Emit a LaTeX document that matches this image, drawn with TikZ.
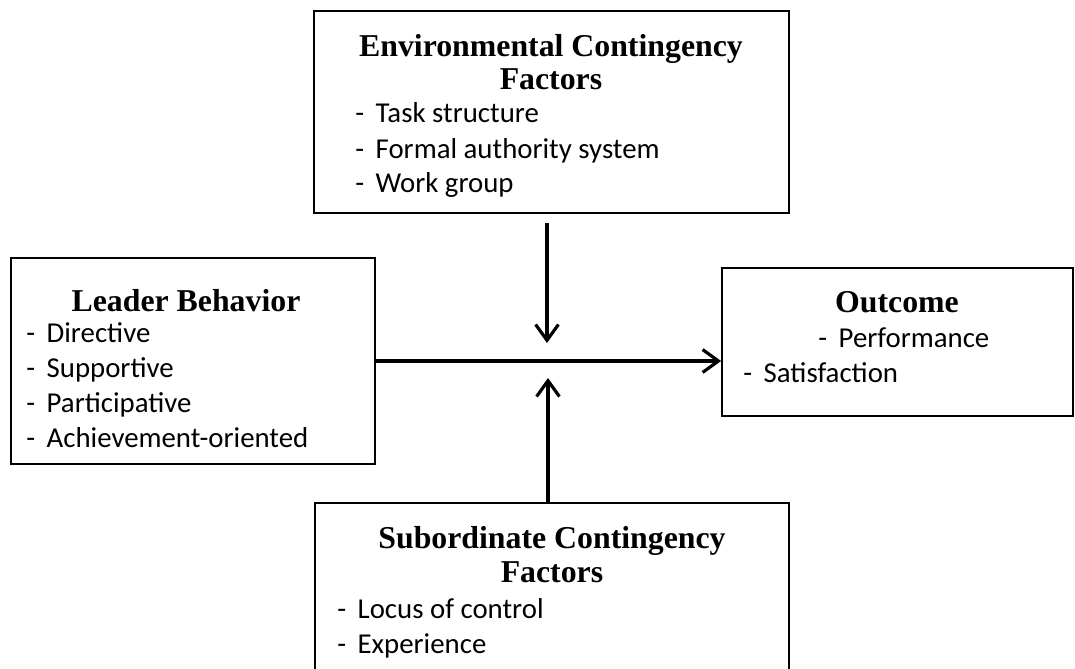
\documentclass[tikz,border=0pt]{standalone}
\usepackage{fontspec}
\setmainfont{Liberation Serif}
\newfontfamily\bodyfont{Carlito}
\usetikzlibrary{arrows.meta,positioning,fit}

\begin{document}
\begin{tikzpicture}[x=0.02cm,y=-0.02cm,
      box/.style={draw,line width=1pt,inner sep=0pt},
      box title/.style={anchor=base,inner sep=0pt,font=\fontsize{18.1}{20}\selectfont\bfseries},
      item/.style={anchor=base west,inner sep=0pt,font=\bodyfont\fontsize{16.4}{19}\selectfont},
      link/.style={line width=1.8pt,-{Straight Barb[length=9pt,width=13pt]}}]

      \clip (0,0) rectangle (1075,669);

      % boxes
      \node[box,fit={(314,11) (789,213)}] (env) {};
      \node[box,fit={(11,258) (375,464)}] (leader) {};
      \node[box,fit={(722,268) (1073,416)}] (outcome) {};
      \node[box,fit={(315,503) (789,700)}] (sub) {};

      % environmental factors
      \node[box title] (env t1) at (551,57) {Environmental Contingency};
      \node[box title] (env t2) at (551,90) {Factors};
      \foreach \txt [count=\i] in {Task structure,Formal authority system,Work group}
        \node[item] (env \i) at (355,{88+35*\i}) {-\hspace{0.4em}\txt};

      % leader behavior
      \node[box title] (leader t) at (186,311) {Leader Behavior};
      \foreach \txt [count=\i] in {Directive,Supportive,Participative,Achievement-oriented}
        \node[item] (leader \i) at (26,{307+35*\i}) {-\hspace{0.4em}\txt};

      % outcome
      \node[box title] (outcome t) at (897,312) {Outcome};
      \node[item] (outcome 1) at (818,347) {-\hspace{0.4em}Performance};
      \node[item] (outcome 2) at (743,382) {-\hspace{0.4em}Satisfaction};

      % subordinate factors
      \node[box title] (sub t1) at (552,548) {Subordinate Contingency};
      \node[box title] (sub t2) at (552,582) {Factors};
      \foreach \txt [count=\i] in {Locus of control,Experience}
        \node[item] (sub \i) at (337,{583+35*\i}) {-\hspace{0.4em}\txt};

      % arrows
      \coordinate (mid top) at (547,343);
      \coordinate (mid bot) at (548,378);
      \draw[link] (mid top |- env.south) ++(0,9) -- (mid top);
      \draw[link] (mid bot |- sub.north) -- (mid bot);
      \draw[link] (leader.east) -- (leader.east -| outcome.west);
    \end{tikzpicture}
\end{document}
